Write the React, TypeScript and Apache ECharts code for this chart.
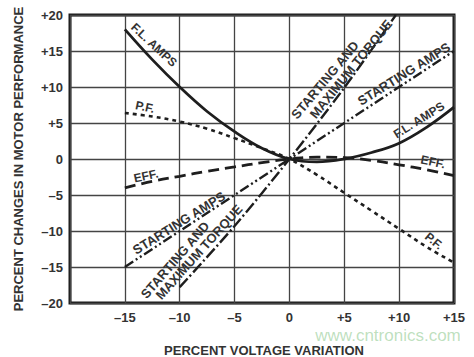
import React, { useEffect, useRef } from "react";
import * as echarts from "echarts";

// ---- data ----
const xSteps = [-15, -12.5, -10, -7.5, -5, -2.5, 0, 2.5, 5, 7.5, 10, 12.5, 15];
const flAmps = [18, 13.8, 10, 6.6, 3.8, 1.5, 0, -0.4, 0, 0.9, 2.2, 4.4, 7.2];
const powerFactor = [6.4, 5.9, 5.2, 4.2, 2.9, 1.5, 0, -2.2, -4.7, -7.2, -9.7, -12.2, -14.4];
const efficiency = [-4, -3.1, -2.4, -1.7, -1.1, -0.5, 0, 0.25, 0.2, -0.2, -0.8, -1.5, -2.3];
const startAmpsX = [-15, 0, 15];
const startAmps = [-15, 0, 15];
const torqueX = [-10, -5, 0, 5, 9.7];
const torque = [-17.8, -9.3, 0, 9.9, 20];
const xTicks = [-20, -15, -10, -5, 0, 5, 10, 15];
const yTicks = [-20, -15, -10, -5, 0, 5, 10, 15, 20];

const pairs = (xs: number[], ys: number[]) => xs.map((x, i) => [x, ys[i]]);
const signed = (v: number) => (v > 0 ? "+" + v : v < 0 ? "\u2013" + Math.abs(v) : "0");

const FONT = '"Liberation Sans", Arial, Helvetica, sans-serif';
const TXT = "#333";
const LINE = "#1e1e1e";

export default function App() {
  const ref = useRef<HTMLDivElement>(null);
  useEffect(() => {
    if (!ref.current) return;
    const chart = echarts.init(ref.current, undefined, { renderer: "svg" });
    const deg = (d: number) => (d * Math.PI) / 180;
    const label = (text: string, x: number, y: number, rot: number, size = 13) => ({
      type: "text",
      x,
      y,
      rotation: deg(rot),
      z: 100,
      style: {
        text,
        fill: TXT,
        font: `bold ${size}px ${FONT}`,
        align: "center",
        verticalAlign: "middle",
      },
    });
    chart.setOption({
      animation: false,
      backgroundColor: "#fff",
      grid: {
        left: 70,
        top: 15,
        width: 384,
        height: 288,
        show: true,
        borderColor: "#1a1a1a",
        borderWidth: 3,
        backgroundColor: "transparent",
      },
      xAxis: {
        type: "value",
        min: -20,
        max: 15,
        interval: 5,
        axisLine: { show: false },
        axisTick: { show: false },
        splitLine: { show: true, lineStyle: { color: "#444", width: 1.3 } },
        axisLabel: {
          margin: 8,
          color: TXT,
          fontWeight: "bold",
          fontSize: 13,
          fontFamily: FONT,
          formatter: (v: number) => (v === -20 ? "" : signed(v)),
          customValues: xTicks,
        },
      },
      yAxis: {
        type: "value",
        min: -20,
        max: 20,
        interval: 5,
        axisLine: { show: false },
        axisTick: { show: false },
        splitLine: { show: true, lineStyle: { color: "#444", width: 1.3 } },
        axisLabel: {
          margin: 7,
          color: TXT,
          fontWeight: "bold",
          fontSize: 13,
          fontFamily: FONT,
          formatter: (v: number) => signed(v),
          customValues: yTicks,
        },
      },
      series: [
        {
          name: "F.L. AMPS",
          type: "line",
          smooth: 0.4,
          symbol: "none",
          data: pairs(xSteps, flAmps),
          lineStyle: { color: LINE, width: 2.8, type: "solid" },
        },
        {
          name: "P.F.",
          type: "line",
          smooth: 0.4,
          symbol: "none",
          data: pairs(xSteps, powerFactor),
          lineStyle: { color: LINE, width: 2.6, type: [4, 4] },
        },
        {
          name: "EFF.",
          type: "line",
          smooth: 0.4,
          symbol: "none",
          data: pairs(xSteps, efficiency),
          lineStyle: { color: LINE, width: 2.8, type: [11, 6] },
        },
        {
          name: "STARTING AMPS",
          type: "line",
          symbol: "none",
          data: pairs(startAmpsX, startAmps),
          lineStyle: { color: LINE, width: 2.4, type: [10, 3, 2, 3, 2, 3] },
        },
        {
          name: "STARTING AND MAXIMUM TORQUE",
          type: "line",
          smooth: 0.3,
          symbol: "none",
          data: pairs(torqueX, torque),
          lineStyle: { color: LINE, width: 2.4, type: [12, 3, 2, 3] },
        },
      ],
      graphic: [
        {
          type: "text",
          x: 18,
          y: 159,
          rotation: Math.PI / 2,
          style: {
            text: "PERCENT CHANGES IN MOTOR PERFORMANCE",
            fill: TXT,
            font: `bold 13px ${FONT}`,
            align: "center",
            verticalAlign: "middle",
          },
        },
        {
          type: "text",
          x: 264,
          y: 350,
          style: {
            text: "PERCENT VOLTAGE VARIATION",
            fill: TXT,
            font: `bold 13px ${FONT}`,
            align: "center",
            verticalAlign: "middle",
          },
        },
        {
          type: "text",
          x: 388,
          y: 335,
          z: 1,
          style: {
            text: "www.cntronics.com",
            fill: "rgba(110,185,110,0.45)",
            font: `17px ${FONT}`,
            align: "center",
            verticalAlign: "middle",
          },
        },
        label("F.L. AMPS", 154, 45, -43, 12),
        label("F.L. AMPS", 419, 120, 32, 12),
        label("STARTING AMPS", 404, 74, 32),
        label("STARTING AND", 325, 80, 50),
        label("MAXIMUM TORQUE", 351, 69, 51),
        label("STARTING AMPS", 179, 223, 32),
        label("STARTING AND", 175, 260, 49),
        label("MAXIMUM TORQUE", 199, 252, 48),
        label("P.F.", 145, 107, -12, 12),
        label("EFF.", 146, 176, 12, 12),
        label("EFF.", 433, 162, -12, 12),
        label("P.F.", 434, 241, -40, 12),
      ],
    });
    return () => chart.dispose();
  }, []);
  return (
    <div
      ref={ref}
      style={{ position: "fixed", left: 0, top: 0, width: 474, height: 357, background: "#fff" }}
    />
  );
}
